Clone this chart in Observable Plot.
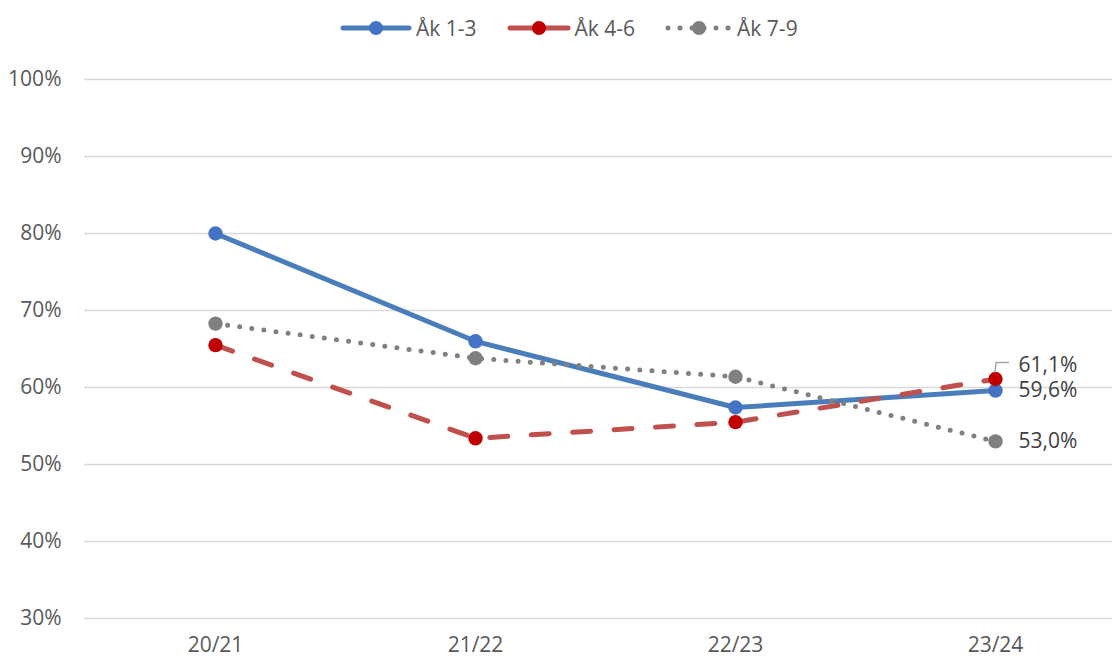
<!DOCTYPE html>
<html>
<head>
<meta charset="utf-8">
<script src="https://cdn.jsdelivr.net/npm/d3@7"></script>
<script src="https://cdn.jsdelivr.net/npm/@observablehq/plot@0.6"></script>
<style>
  html, body { margin: 0; padding: 0; background: #fff; }
  body { width: 1114px; height: 659px; overflow: hidden; font-family: "Open Sans", sans-serif; }
  #legend { height: 55px; display: flex; align-items: center; padding-left: 340px; box-sizing: border-box; color: #595959; font-size: 21px; }
  .item { display: flex; align-items: center; margin-right: 30px; }
  .item svg { margin-right: 4px; }
</style>
</head>
<body>
<div id="legend"></div>
<div id="chart"></div>
<script>
const years = ["20/21", "21/22", "22/23", "23/24"];
const seriesNames = ["Åk 1-3", "Åk 4-6", "Åk 7-9"];
const ak13 = [80.0, 66.0, 57.4, 59.6];
const ak46 = [65.5, 53.4, 55.5, 61.1];
const ak79 = [68.3, 63.8, 61.4, 53.0];
const yTicks = [30, 40, 50, 60, 70, 80, 90, 100];

const styles = [
  {line: "#4a7ebb", dot: "#4472c4", dash: null},
  {line: "#c0504d", dot: "#c00000", dash: "18,23.5"},
  {line: "#808080", dot: "#7f7f7f", dash: "0,12.2"}
];
const allSeries = [ak13, ak46, ak79];
const data = [];
allSeries.forEach((vals, si) => vals.forEach((v, i) => data.push({series: seriesNames[si], year: years[i], value: v})));

const fmt = v => v.toFixed(1).replace(".", ",") + "%";

// legend
const legend = document.getElementById("legend");
seriesNames.forEach((name, si) => {
  const st = styles[si];
  const item = document.createElement("div");
  item.className = "item";
  const w = si === 0 ? 72 : si === 1 ? 64 : 68;
  const dashAttr = si === 2 ? `stroke-dasharray="0,12"` : "";
  item.innerHTML = `<svg width="${w}" height="20"><line x1="3" x2="${w-3}" y1="10" y2="10" stroke="${st.line}" stroke-width="5" stroke-linecap="round" ${dashAttr}/><circle cx="${w/2}" cy="10" r="7" fill="${st.dot}"/></svg><span>${name}</span>`;
  legend.appendChild(item);
});

const marks = [
  Plot.ruleY(yTicks, {stroke: "#d9d9d9", strokeWidth: 1.5})
];
seriesNames.forEach((name, si) => {
  const st = styles[si];
  const d = data.filter(r => r.series === name);
  marks.push(Plot.line(d, {x: "year", y: "value", stroke: st.line, strokeWidth: 5, strokeLinecap: "round", strokeLinejoin: "round", strokeDasharray: st.dash}));
  marks.push(Plot.dot(d, {x: "year", y: "value", r: 7.2, fill: st.dot, stroke: null}));
});

const lastYear = years[years.length - 1];
const last = data.filter(r => r.year === lastYear);
const shifted = last.filter(r => r.series === "Åk 4-6");
const unshifted = last.filter(r => r.series !== "Åk 4-6");
marks.push(Plot.text(unshifted, {x: "year", y: "value", text: r => fmt(r.value), dx: 23, textAnchor: "start", fill: "#404040", fontSize: 21}));
marks.push(Plot.text(shifted, {x: "year", y: "value", text: r => fmt(r.value), dx: 23, dy: -14, textAnchor: "start", fill: "#404040", fontSize: 21}));

// leader line for the shifted label
marks.push((index, scales) => {
  const r = shifted[0];
  const x = scales.x(r.year), y = scales.y(r.value);
  const p = document.createElementNS("http://www.w3.org/2000/svg", "path");
  p.setAttribute("d", `M${x},${y - 6}L${x + 1},${y - 16}L${x + 14},${y - 16}`);
  p.setAttribute("fill", "none");
  p.setAttribute("stroke", "#a6a6a6");
  p.setAttribute("stroke-width", "1.5");
  return p;
});

const chart = Plot.plot({
  width: 1114,
  height: 604,
  marginLeft: 84,
  marginRight: 2,
  marginTop: 24,
  marginBottom: 41,
  style: {fontFamily: "Open Sans, sans-serif", fontSize: "21px", color: "#595959", background: "#fff", overflow: "visible"},
  x: {type: "point", domain: years, range: [214.6, 996], padding: 0, label: null, tickSize: 0, tickPadding: 19},
  y: {domain: [30, 100], ticks: yTicks, tickFormat: d => d + "%", label: null, tickSize: 0, tickPadding: 23},
  marks
});
document.getElementById("chart").appendChild(chart);
</script>
</body>
</html>
